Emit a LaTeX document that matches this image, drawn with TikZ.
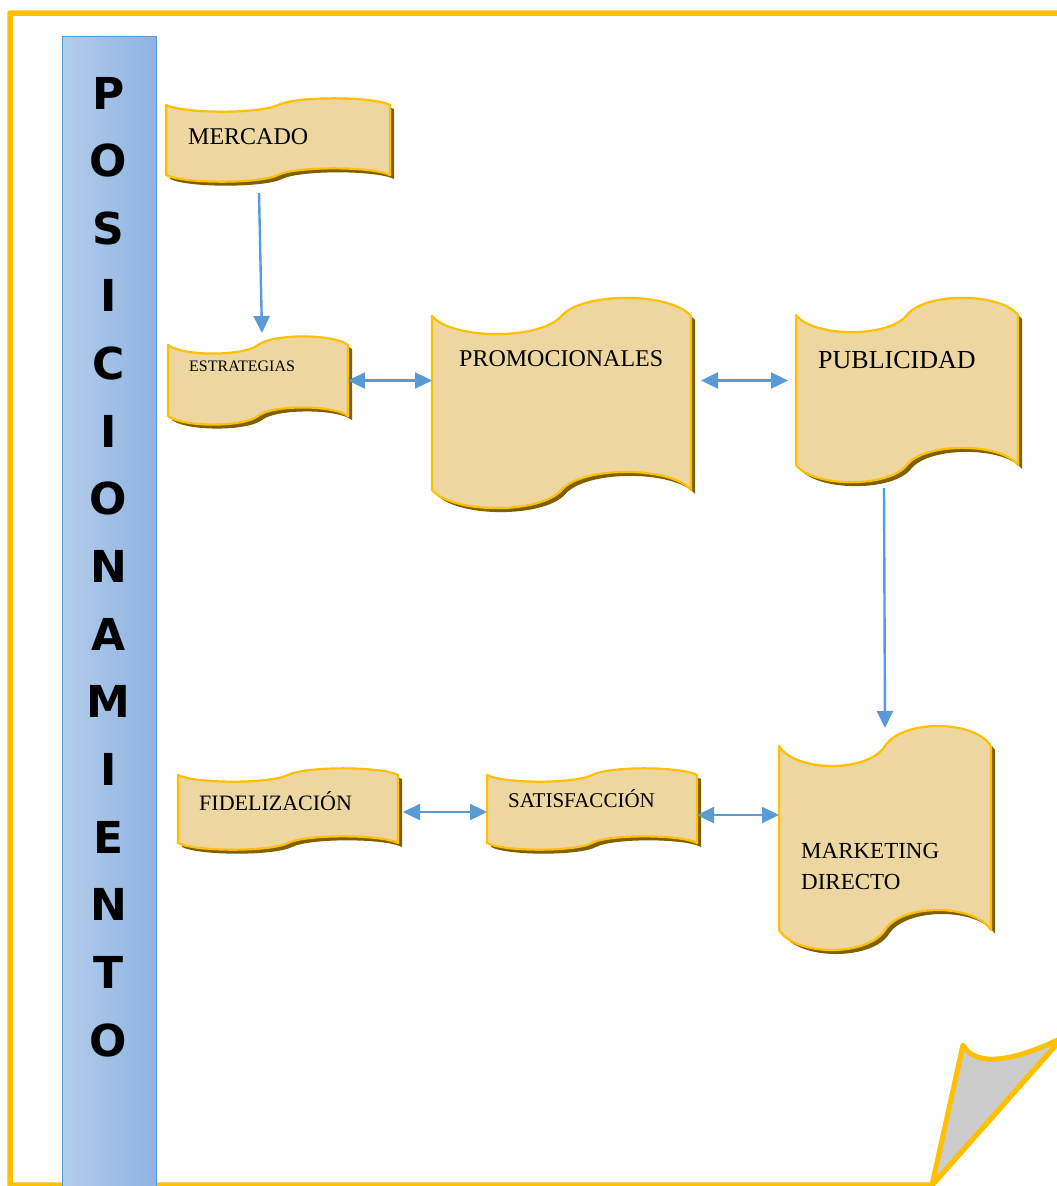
\documentclass[tikz,border=0pt]{standalone}
\usepackage{fontspec}
\setmainfont{Liberation Serif}
\newfontfamily\letrasbarra{DejaVu Sans}
\usepackage{tikz}
\usetikzlibrary{positioning}
\usetikzlibrary{arrows.meta}

\definecolor{naranja}{RGB}{255,192,0}
\definecolor{azul}{RGB}{91,155,213}
\definecolor{azulclaro}{RGB}{180,204,234}
\definecolor{azuloscuro}{RGB}{142,179,226}
\definecolor{papel}{RGB}{237,214,160}
\definecolor{sombra}{RGB}{127,96,0}
\definecolor{pliegue}{RGB}{204,204,204}

\tikzset{
  hoja/.style={fill=papel, draw=naranja, line width=2.2pt, line join=round},
  sombrahoja/.style={fill=sombra},
  caja/.style={inner sep=0pt, outer sep=0pt},
  texto/.style={inner sep=0pt, anchor=base west},
  flecha/.style={draw=azul, line width=2.4pt, -{Triangle[length=17pt,width=16pt]}},
  doble/.style={draw=azul, line width=2.4pt, {Triangle[length=17pt,width=16pt]}-{Triangle[length=17pt,width=16pt]}},
  letra/.style={font=\letrasbarra\bfseries\fontsize{44}{44}\selectfont, inner sep=0pt}
}

% borde ondulado: ancho, alto, amplitud
\newcommand{\onda}[3]{(0,0) .. controls (0.08*#1,1.27*#3) and (0.42*#1,1.27*#3) .. (0.5*#1,0)
  .. controls (0.58*#1,-1.27*#3) and (0.92*#1,-1.27*#3) .. (#1,0) -- (#1,#2)
  .. controls (0.92*#1,#2-1.27*#3) and (0.58*#1,#2-1.27*#3) .. (0.5*#1,#2)
  .. controls (0.42*#1,#2+1.27*#3) and (0.08*#1,#2+1.27*#3) .. (0,#2) -- cycle}

% pergamino: nombre, x, y, ancho, alto, amplitud
\newcommand{\pergamino}[6]{%
  \fill[sombrahoja, shift={(#2+4,#3+4)}] \onda{#4}{#5}{#6};
  \filldraw[hoja, shift={(#2,#3)}] \onda{#4}{#5}{#6};
  \node[caja, minimum width=#4pt, minimum height=#5pt, anchor=north west] (#1) at (#2,#3) {};
}

\begin{document}
\begin{tikzpicture}[x=1pt, y=-1pt]
  \useasboundingbox (0,0) rectangle (1057,1186);
  \fill[white] (0,0) rectangle (1057,1186);
  \clip (0,0) rectangle (1057,1186);

  % marco con esquina doblada
  \draw[naranja, line width=5.5pt, line join=round] (10,13) -- (1062,13) -- (1062,1038) -- (932,1185) -- (10,1185) -- cycle;
  \filldraw[fill=pliegue, draw=naranja, line width=5pt, line join=round] (932,1185) -- (963,1045) .. controls (972,1062) and (1000,1068) .. (1062,1038) -- cycle;

  % barra lateral
  \shade[left color=azulclaro, right color=azuloscuro] (62,36) rectangle (156,1190);
  \draw[azul, line width=0.8pt] (62,1190) -- (62,36) -- (156,36) -- (156,1190);
  \foreach \l [count=\i from 0] in {P,O,S,I,C,I,O,N,A,M,I,E,N,T,O}
    \node[letra] (letra\i) at (108.5,93+67.65*\i) {\l};

  % pergaminos
  \pergamino{mercado}{166}{105}{224}{70}{7}
  \pergamino{estrategias}{168}{345}{180}{71}{9}
  \pergamino{promocionales}{432}{316}{259}{174}{19}
  \pergamino{publicidad}{796}{315}{222}{150}{18}
  \pergamino{fidelizacion}{178}{775}{220}{68}{7}
  \pergamino{satisfaccion}{487}{775}{210}{68}{7}
  \pergamino{marketing}{779}{746}{212}{184}{21}

  \node[texto, font=\fontsize{24}{28}\selectfont] (tmercado) at (188,144) {MERCADO};
  \node[texto, font=\fontsize{16}{18}\selectfont] (testrategias) at (189,371) {ESTRATEGIAS};
  \node[texto, font=\fontsize{24}{28}\selectfont] (tpromocionales) at (459,366) {PROMOCIONALES};
  \node[texto, font=\fontsize{26}{30}\selectfont] (tpublicidad) at (818,368) {PUBLICIDAD};
  \node[texto, font=\fontsize{22}{26}\selectfont] (tfidelizacion) at (199,810) {FIDELIZACIÓN};
  \node[texto, font=\fontsize{21}{25}\selectfont] (tsatisfaccion) at (508,807) {SATISFACCIÓN};
  \node[inner sep=0pt, anchor=north west, align=left, font=\fontsize{23}{31}\selectfont] (tmarketing) at (801,843) {MARKETING\\DIRECTO};

  % conectores
  \draw[flecha] ([shift={(-19,18)}]mercado.south) -- ([shift={(4,-12)}]estrategias.north);
  \draw[doble] (estrategias.east) -- (estrategias.east -| promocionales.west);
  \draw[doble, shorten <=10pt, shorten >=8pt] (promocionales.east |- estrategias.east) -- (publicidad.west |- estrategias.east);
  \draw[flecha] ([shift={(-23,23)}]publicidad.south) -- ([shift={(0,-18)}]marketing.north);
  \draw[doble, shorten <=5pt] ([yshift=-3pt]fidelizacion.east) -- ([yshift=-3pt]satisfaccion.west);
  \draw[doble] ([yshift=-6pt]satisfaccion.east) -- ([yshift=-6pt]satisfaccion.east -| marketing.west);
\end{tikzpicture}
\end{document}
